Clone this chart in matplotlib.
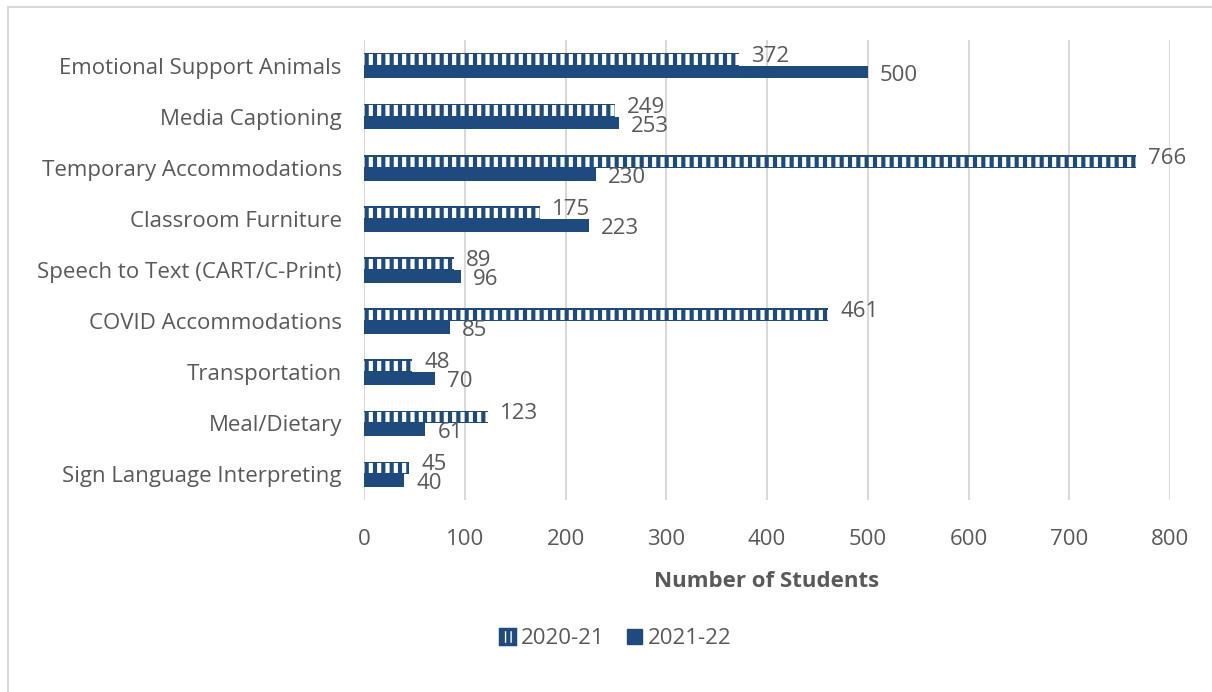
import matplotlib
matplotlib.use('Agg')
import matplotlib.pyplot as plt
from matplotlib.patches import Rectangle, Patch
import numpy as np

categories = ['Sign Language Interpreting', 'Meal/Dietary', 'Transportation',
              'COVID Accommodations', 'Speech to Text (CART/C-Print)',
              'Classroom Furniture', 'Temporary Accommodations',
              'Media Captioning', 'Emotional Support Animals']
values_2020 = [45, 123, 48, 461, 89, 175, 766, 249, 372]
values_2021 = [40, 61, 70, 85, 96, 223, 230, 253, 500]
series_names = ['2020-21', '2021-22']

blue = '#1F4A7D'
gray_text = '#595959'
grid_col = '#D9D9D9'
fs = 16

plt.rcParams['font.family'] = ['Open Sans', 'DejaVu Sans']
plt.rcParams['hatch.linewidth'] = 3.0

fig = plt.figure(figsize=(12.12, 6.92), dpi=100)
ax = fig.add_axes([364 / 1212, 1 - 500 / 692, 806 / 1212, 460 / 692])

y = np.arange(len(categories))
h = 0.25

# 2021-22 solid bars (below)
ax.barh(y - h / 2, values_2021, height=h, color=blue, zorder=3)
# 2020-21 striped bars (above): blue base + white stripes in the middle band
ax.barh(y + h / 2, values_2020, height=h, color=blue, zorder=3)
ax.barh(y + h / 2 - 0.005, values_2020, height=h * 0.8, color='none', hatch='||',
        edgecolor='white', linewidth=0, zorder=4)

for yy, v in zip(y, values_2020):
    ax.text(v + 12, yy + h / 2 + 0.06, str(v), va='center', ha='left',
            fontsize=fs, color=gray_text)
for yy, v in zip(y, values_2021):
    ax.text(v + 12, yy - h / 2 - 0.06, str(v), va='center', ha='left',
            fontsize=fs, color=gray_text)

ax.set_xlim(0, 800)
ax.set_ylim(-0.5, 8.5)
ax.set_xticks(np.arange(0, 801, 100))
ax.set_yticks(y)
ax.set_yticklabels(categories)
ax.tick_params(axis='both', length=0, labelsize=fs, labelcolor=gray_text)
ax.tick_params(axis='y', pad=16)
ax.tick_params(axis='x', pad=21)
ax.grid(axis='x', color=grid_col, linewidth=1.5, zorder=0)
ax.set_axisbelow(True)
for s in ax.spines.values():
    s.set_visible(False)
ax.set_xlabel('Number of Students', fontsize=16, fontweight='bold',
              color=gray_text, labelpad=15)

handles = [Patch(facecolor='white', edgecolor=blue, hatch='|||', linewidth=2.5),
           Patch(facecolor=blue, edgecolor=blue)]
fig.legend(handles, series_names, loc='center', ncol=2, frameon=False,
           bbox_to_anchor=(616 / 1212, 1 - 639 / 692), fontsize=fs,
           labelcolor=gray_text, handlelength=0.65, handleheight=0.65,
           columnspacing=1.0, handletextpad=0.3)

# outer chart border
fig.patches.append(Rectangle((8 / 1212, -0.1), 1.2, 1.1 - 7 / 692,
                             transform=fig.transFigure, fill=False,
                             edgecolor=grid_col, linewidth=1.5))

fig.savefig('out.png', dpi=100)
